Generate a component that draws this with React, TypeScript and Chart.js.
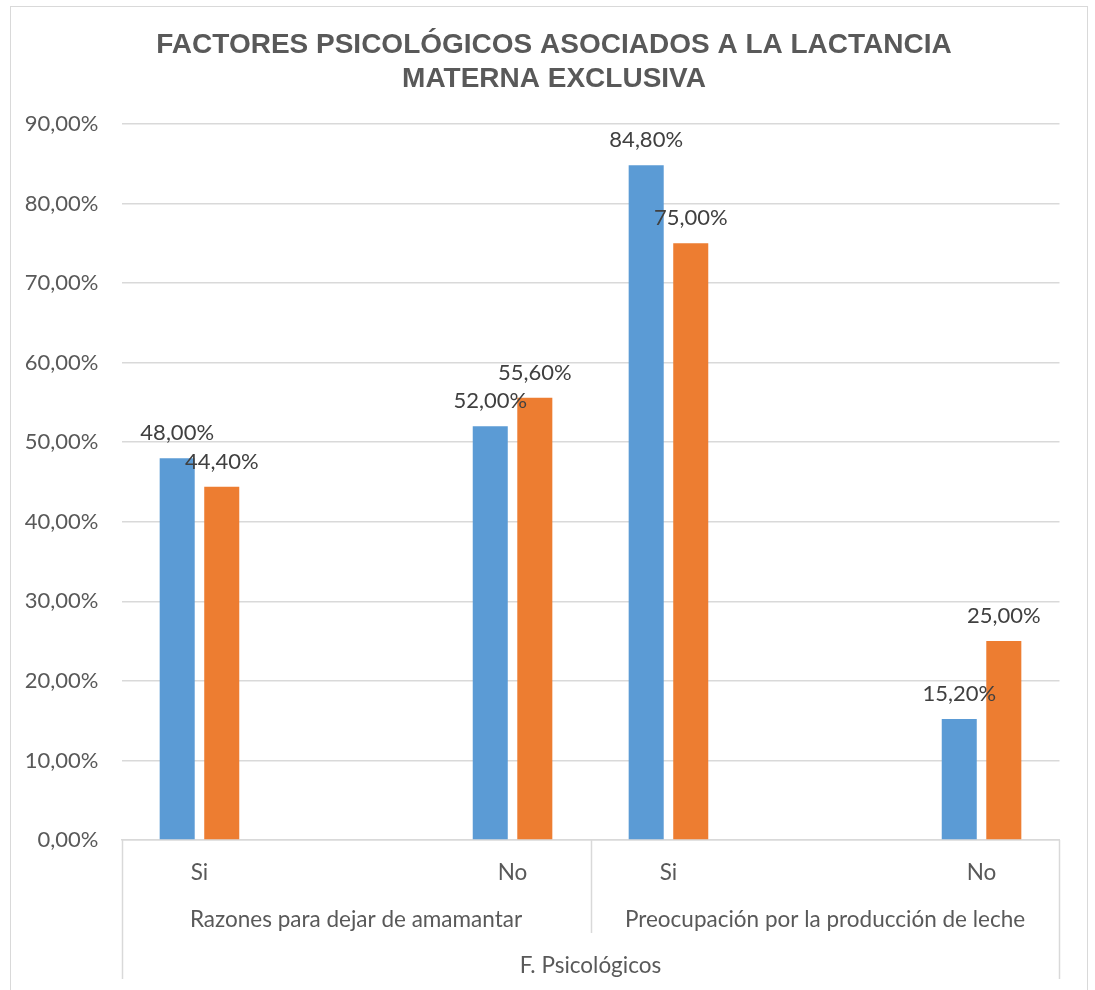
import React, { useEffect, useRef } from "react";
import { Chart, registerables } from "chart.js";

Chart.register(...registerables);

const titleLines = ["FACTORES PSICOLÓGICOS ASOCIADOS A LA LACTANCIA", "MATERNA EXCLUSIVA"];
const categories = ["Si", "No", "Si", "No"];
const groups = ["Razones para dejar de amamantar", "Preocupación por la producción de leche"];
const topGroup = "F. Psicológicos";
const blueValues = [48.0, 52.0, 84.8, 15.2];
const orangeValues = [44.4, 55.6, 75.0, 25.0];
const yTicks = [0, 10, 20, 30, 40, 50, 60, 70, 80, 90];

const BLUE = "#5B9BD5";
const ORANGE = "#ED7D31";
const GRID = "#d9d9d9";
const FONT = "Lato, 'Noto Sans', sans-serif";

const fmt = (v: number) => v.toFixed(2).replace(".", ",") + "%";

const onlyFor = (vals: number[], cat: string) =>
  vals.map((v, i) => (categories[i] === cat ? v : null));

const decorPlugin = {
  id: "decor",
  afterDraw(chart: any) {
    const ctx = chart.ctx;
    const area = chart.chartArea;
    const xs = chart.scales.x;
    ctx.save();
    // title
    ctx.fillStyle = "#595959";
    ctx.font = "bold 28px 'Liberation Sans', Arial, sans-serif";
    ctx.textAlign = "center";
    ctx.textBaseline = "alphabetic";
    const tx = chart.width / 2 + 5;
    ctx.fillText(titleLines[0], tx, 45.7);
    ctx.fillText(titleLines[1], tx, 80);

    // data labels
    ctx.font = "22px " + FONT;
    ctx.fillStyle = "#404040";
    chart.data.datasets.forEach((ds: any, di: number) => {
      const meta = chart.getDatasetMeta(di);
      meta.data.forEach((el: any, i: number) => {
        const v = ds.data[i];
        if (v === null || v === undefined) return;
        ctx.fillText(fmt(v), el.x, el.y - 18);
      });
    });

    // category labels (centered under the visible bar pair)
    const bottom = area.bottom;
    ctx.fillStyle = "#595959";
    ctx.font = "22.5px " + FONT;
    categories.forEach((c, i) => {
      const metas = [0, 1, 2, 3]
        .map((d) => ({ m: chart.getDatasetMeta(d), v: chart.data.datasets[d].data[i] }))
        .filter((o) => o.v !== null);
      const xsPix = metas.map((o) => o.m.data[i].x);
      const cx = xsPix.reduce((a, b) => a + b, 0) / xsPix.length;
      ctx.fillText(c, cx, bottom + 40);
    });
    // group labels
    const half = (xs.getPixelForValue(1) + xs.getPixelForValue(2)) / 2;
    ctx.fillText(groups[0], (area.left + half) / 2, bottom + 86.7);
    ctx.fillText(groups[1], (half + area.right) / 2, bottom + 86.7);
    ctx.fillText(topGroup, (area.left + area.right) / 2, bottom + 132.7);

    // separators
    ctx.strokeStyle = GRID;
    ctx.lineWidth = 1.5;
    const line = (x: number, y2: number) => {
      ctx.beginPath();
      ctx.moveTo(x, bottom);
      ctx.lineTo(x, y2);
      ctx.stroke();
    };
    line(Math.round(area.left) + 0.5, bottom + 139);
    line(Math.round(half) + 0.5, bottom + 93);
    line(Math.round(area.right) - 0.5, bottom + 139);
    ctx.restore();
  },
};

export default function App() {
  const ref = useRef<HTMLCanvasElement | null>(null);
  useEffect(() => {
    if (!ref.current) return;
    const chart = new Chart(ref.current, {
      type: "bar",
      data: {
        labels: categories,
        datasets: [
          { label: "Si-1", data: onlyFor(blueValues, "Si"), backgroundColor: BLUE, categoryPercentage: 0.7, barPercentage: 0.854 },
          { label: "Si-2", data: onlyFor(orangeValues, "Si"), backgroundColor: ORANGE, categoryPercentage: 0.58, barPercentage: 1.03 },
          { label: "No-1", data: onlyFor(blueValues, "No"), backgroundColor: BLUE, categoryPercentage: 0.58, barPercentage: 1.03 },
          { label: "No-2", data: onlyFor(orangeValues, "No"), backgroundColor: ORANGE, categoryPercentage: 0.7, barPercentage: 0.854 },
        ] as any,
      },
      options: {
        animation: false,
        responsive: false,
        layout: { padding: { top: 117, right: 27.5, left: 0, bottom: 0 } },
        plugins: { legend: { display: false }, tooltip: { enabled: false }, title: { display: false } },
        scales: {
          x: {
            grid: { display: false },
            border: { display: true, color: GRID, width: 1.5 },
            ticks: { display: false },
            afterFit: (s: any) => {
              s.height = 167;
            },
          },
          y: {
            min: 0,
            max: 90,
            afterBuildTicks: (s: any) => {
              s.ticks = yTicks.map((v) => ({ value: v }));
            },
            grid: { color: GRID, lineWidth: 1.5, drawTicks: false },
            border: { display: false },
            ticks: {
              padding: 23,
              color: "#595959",
              font: { family: FONT, size: 22 },
              callback: (v: any) => fmt(Number(v)),
            },
            afterFit: (s: any) => {
              s.width = 110.5;
            },
          },
        },
      },
      plugins: [decorPlugin],
    });
    return () => chart.destroy();
  }, []);

  return (
    <div style={{ position: "fixed", inset: 0, overflow: "hidden", background: "#fff" }}>
      <div
        style={{
          position: "absolute",
          left: 10,
          top: 6,
          width: 1078,
          height: 1010,
          border: "1px solid #d9d9d9",
          boxSizing: "border-box",
        }}
      >
        <canvas ref={ref} width={1076} height={1000} style={{ display: "block" }} />
      </div>
    </div>
  );
}
